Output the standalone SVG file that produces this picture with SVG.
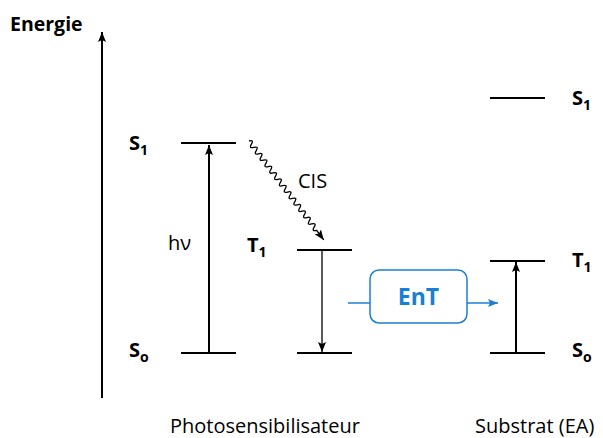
<svg xmlns="http://www.w3.org/2000/svg" width="603" height="438" viewBox="0 0 603 438">
<style>
text{font-family:"Open Sans","Liberation Sans",sans-serif;fill:#000}
.b{font-weight:bold;font-size:20px}
.e{font-weight:bold;font-size:19.5px}
.n{font-size:20px}
.s{font-size:14px}
.lvl{stroke:#000;stroke-width:2;fill:none}
.ar{stroke:#000;stroke-width:2;fill:none}
.ar1{stroke:#000;stroke-width:1.3;fill:none}
.blue{stroke:#1a7fd4;stroke-width:1.5;fill:none}
</style>
<defs>
<marker id="ah" viewBox="0 0 10 8" refX="10" refY="4" markerWidth="10" markerHeight="8" markerUnits="userSpaceOnUse" orient="auto"><path d="M0,0 L10,4 L0,8 L2,4 Z" fill="#000"/></marker>
<marker id="ahb" viewBox="0 0 10 8" refX="10" refY="4" markerWidth="11" markerHeight="8" markerUnits="userSpaceOnUse" orient="auto"><path d="M0,0 L10,4 L0,8 L2,4 Z" fill="#1a7fd4"/></marker>
</defs>
<g id="axis">
<line class="ar" x1="102" y1="398" x2="102" y2="32" marker-end="url(#ah)"/>
<text class="e" x="10" y="31">Energie</text>
</g>
<g id="ps-S1"><line class="lvl" x1="181" y1="143" x2="236" y2="143"/><text class="b" x="129" y="150">S<tspan class="s" dy="5">1</tspan></text></g>
<g id="ps-T1"><line class="lvl" x1="297" y1="250" x2="352" y2="250"/><text class="b" x="247" y="252">T<tspan class="s" dy="5">1</tspan></text></g>
<g id="ps-S0"><line class="lvl" x1="181" y1="353" x2="236" y2="353"/><line class="lvl" x1="297" y1="353" x2="352" y2="353"/><text class="b" x="129" y="357">S<tspan class="s" dy="5">o</tspan></text></g>
<g id="sub-S1"><line class="lvl" x1="490" y1="98" x2="545" y2="98"/><text class="b" x="572" y="105">S<tspan class="s" dy="5">1</tspan></text></g>
<g id="sub-T1"><line class="lvl" x1="490" y1="261" x2="545" y2="261"/><text class="b" x="572" y="267">T<tspan class="s" dy="5">1</tspan></text></g>
<g id="sub-S0"><line class="lvl" x1="490" y1="353" x2="545" y2="353"/><text class="b" x="572" y="357">S<tspan class="s" dy="5">o</tspan></text></g>
<g id="EnT">
<rect x="370" y="270" width="97" height="53" rx="9" fill="#fff" stroke="#1a7fd4" stroke-width="1.5"/>
<text x="418.5" y="305" text-anchor="middle" font-weight="bold" font-size="23" style="fill:#1a7fd4">EnT</text>
</g>
<g id="connectors">
<line class="ar" x1="209" y1="353" x2="209" y2="145" marker-end="url(#ah)"/>
<line class="ar1" x1="322" y1="250" x2="322" y2="352" marker-end="url(#ah)"/>
<line class="ar" x1="516" y1="353" x2="516" y2="262" marker-end="url(#ah)"/>
<g transform="translate(249,141) rotate(52.9)">
<path class="ar1" d="M0,0 q2,-5 4,0 t4,0 t4,0 t4,0 t4,0 t4,0 t4,0 t4,0 t4,0 t4,0 t4,0 t4,0 t4,0 t4,0 t4,0 t4,0 t4,0 t4,0 t4,0 t4,0 t4,0 t4,0 t4,0 t4,0 t4,0 t4,0 t4,0 t4,0 L124,0" marker-end="url(#ah)"/>
</g>
<line class="blue" x1="348" y1="303" x2="370" y2="303"/>
<line class="blue" x1="467" y1="303" x2="498" y2="303" marker-end="url(#ahb)"/>
</g>
<text class="n" x="168" y="250">hν</text>
<text class="n" x="298" y="188">CIS</text>
<text class="n" x="170" y="433">Photosensibilisateur</text>
<text class="n" x="475" y="433">Substrat (EA)</text>
</svg>
